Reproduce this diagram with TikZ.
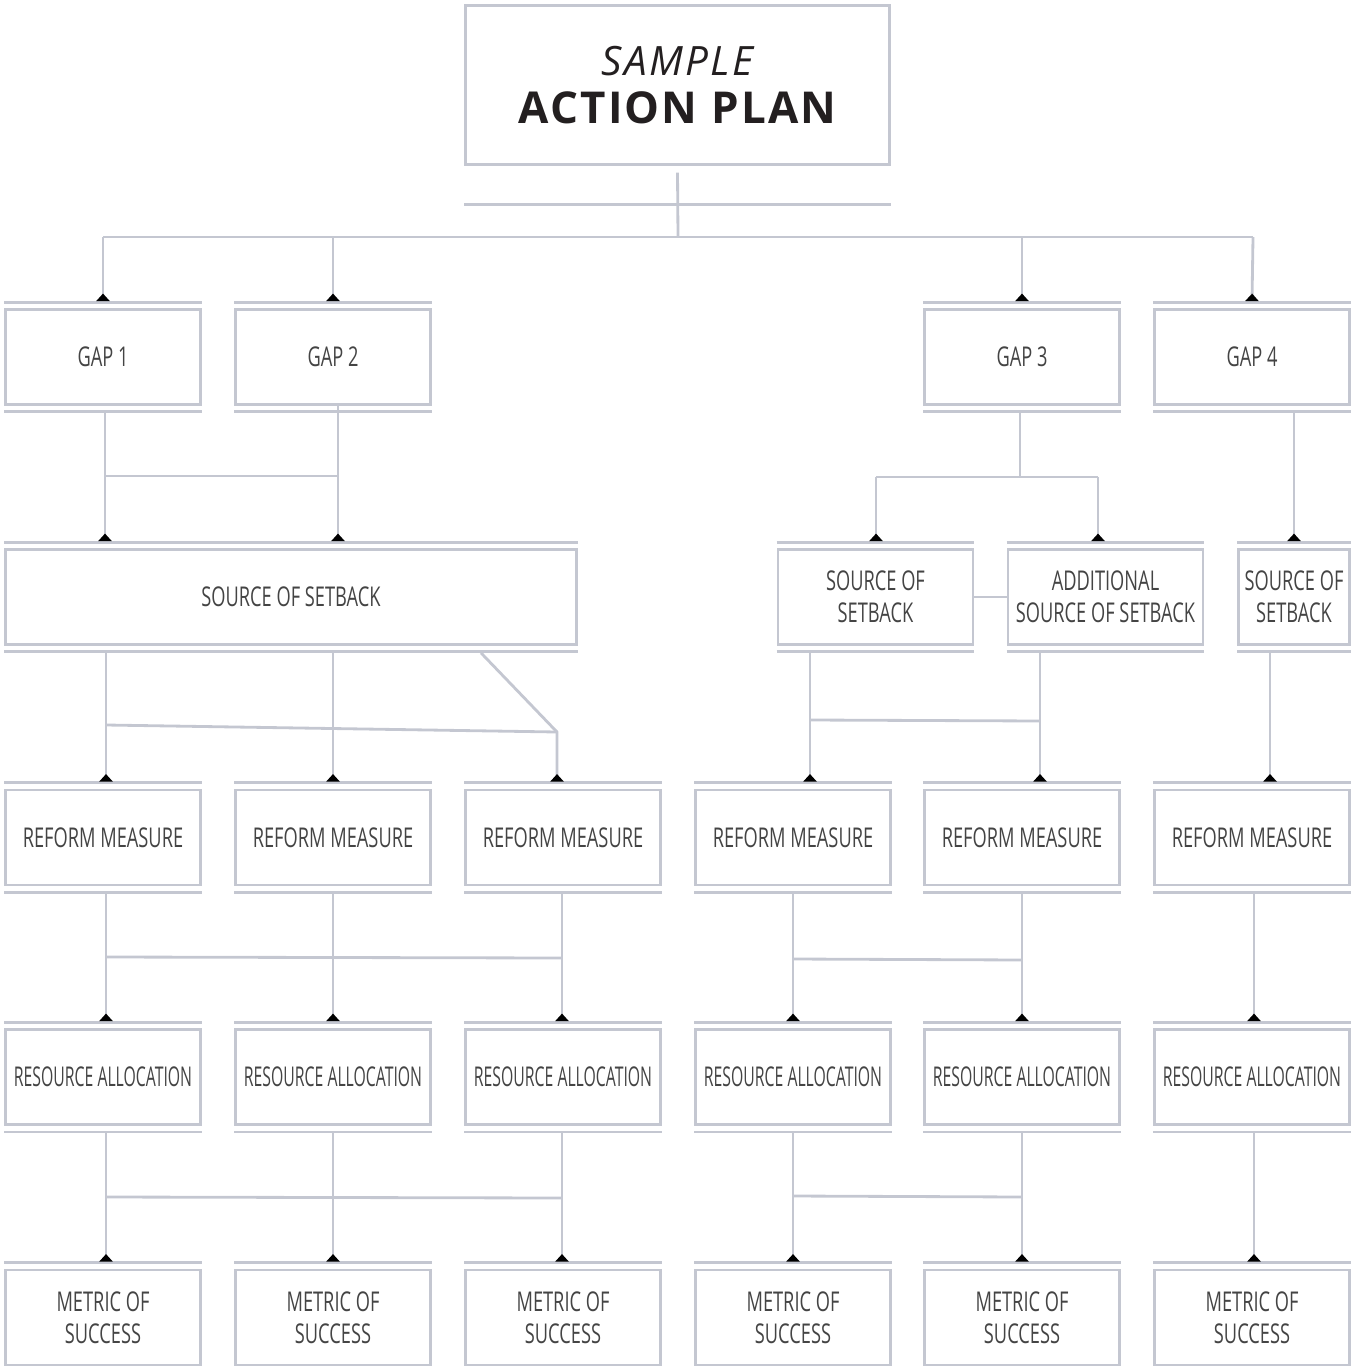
\documentclass[tikz,border=0pt]{standalone}
\usepackage{fontspec}
\setmainfont{Open Sans}
\newfontfamily\boxfont[FakeStretch=0.67]{Open Sans}
\newfontfamily\allocfont[FakeStretch=0.58]{Open Sans}
\usepackage{xcolor}
\usetikzlibrary{positioning, arrows.meta, calc}
\definecolor{linegray}{HTML}{C4C7D1}
\definecolor{textgray}{HTML}{444444}
\definecolor{titleink}{HTML}{231F20}

\begin{document}
\begin{tikzpicture}[x=0.02cm, y=-0.02cm,
          ruleline/.style={draw=linegray, line width=1.6pt},
          box/.style={draw=linegray, line width=1.6pt, minimum width=3.9cm, minimum height=1.9cm, align=center, text=textgray, inner sep=1pt, font=\boxfont\fontsize{15.5}{18.5}\selectfont,
            append after command={\pgfextra{\let\boxnode\tikzlastnode}
              ([yshift=0.12cm]\boxnode.north west) edge[ruleline] ([yshift=0.12cm]\boxnode.north east)
              ([yshift=-0.12cm]\boxnode.south west) edge[ruleline] ([yshift=-0.12cm]\boxnode.south east)}},
          allocbox/.style={box, font=\allocfont\fontsize{15.5}{18.5}\selectfont},
          titlebox/.style={draw=linegray, line width=1.6pt, minimum width=8.48cm, minimum height=3.17cm, align=center, text=titleink, font=\fontsize{25}{27}\selectfont},
          conn/.style={draw=linegray, line width=1.6pt},
          arr/.style={conn, -{Triangle[width=7.5pt, length=4.3pt, reversed, color=black]}}
        ]
        \useasboundingbox (0,0) rectangle (1355,1368);
        \node[titlebox] (title) at (677.5,85) {{\fontsize{23}{27}\selectfont\itshape\addfontfeature{LetterSpace=6}SAMPLE}\\{\bfseries\addfontfeature{LetterSpace=5}ACTION PLAN}};
        \node[box] (gap1) at (103,357) {GAP 1};
        \node[box] (gap2) at (333,357) {GAP 2};
        \node[box] (gap3) at (1022,357) {GAP 3};
        \node[box] (gap4) at (1252,357) {GAP 4};
        \node[box, minimum width=11.42cm] (src) at (291,597) {SOURCE OF SETBACK};
        \node[box] (srcb) at (875.5,597) {SOURCE OF\\SETBACK};
        \node[box] (srcadd) at (1105.5,597) {ADDITIONAL\\SOURCE OF SETBACK};
        \node[box, minimum width=2.22cm] (srcc) at (1294,597) {SOURCE OF\\SETBACK};
        \node[box] (rm1) at (103,837.5) {REFORM MEASURE};
        \node[box] (rm2) at (333,837.5) {REFORM MEASURE};
        \node[box] (rm3) at (563,837.5) {REFORM MEASURE};
        \node[box] (rm4) at (793,837.5) {REFORM MEASURE};
        \node[box] (rm5) at (1022,837.5) {REFORM MEASURE};
        \node[box] (rm6) at (1252,837.5) {REFORM MEASURE};
        \node[allocbox] (ra1) at (103,1077) {RESOURCE ALLOCATION};
        \node[allocbox] (ra2) at (333,1077) {RESOURCE ALLOCATION};
        \node[allocbox] (ra3) at (563,1077) {RESOURCE ALLOCATION};
        \node[allocbox] (ra4) at (793,1077) {RESOURCE ALLOCATION};
        \node[allocbox] (ra5) at (1022,1077) {RESOURCE ALLOCATION};
        \node[allocbox] (ra6) at (1252,1077) {RESOURCE ALLOCATION};
        \node[box] (ms1) at (103,1317.5) {METRIC OF\\SUCCESS};
        \node[box] (ms2) at (333,1317.5) {METRIC OF\\SUCCESS};
        \node[box] (ms3) at (563,1317.5) {METRIC OF\\SUCCESS};
        \node[box] (ms4) at (793,1317.5) {METRIC OF\\SUCCESS};
        \node[box] (ms5) at (1022,1317.5) {METRIC OF\\SUCCESS};
        \node[box] (ms6) at (1252,1317.5) {METRIC OF\\SUCCESS};
        \coordinate (hub) at (678,237);
        \coordinate (busL) at (103,237);
        \coordinate (busR) at (1253,237);
        \draw[conn] ($(title.south west)+(0,39)$) -- ($(title.south east)+(0,39)$);
        \draw[conn] ($(title.south)+(0,7)$) -- (hub);
        \draw[conn] (busL) -- (busR);
        \draw[arr] (busL) -- ($(gap1.north)+(0,-7)$);
        \draw[arr] (gap2.north |- hub) -- ($(gap2.north)+(0,-7)$);
        \draw[arr] (gap3.north |- hub) -- ($(gap3.north)+(0,-7)$);
        \draw[arr] (busR) -- ($(gap4.north)+(0,-7)$);
        \coordinate (a1) at (105,476);
        \coordinate (a2) at (338,476);
        \coordinate (a3) at (1020,477);
        \coordinate (a4) at (876,477);
        \coordinate (a5) at (1098,477);
        \draw[conn] (a1) -- (a2);
        \draw[arr] ($(a1 |- gap1.south)+(0,7)$) -- ($(a1 |- src.north)+(0,-7)$);
        \draw[arr] (a2 |- gap2.south) -- ($(a2 |- src.north)+(0,-7)$);
        \draw[conn] ($(a3 |- gap3.south)+(0,7)$) -- (a3);
        \draw[conn] (a4) -- (a5);
        \draw[arr] (a4) -- ($(a4 |- srcb.north)+(0,-7)$);
        \draw[arr] (a5) -- ($(a5 |- srcadd.north)+(0,-7)$);
        \draw[arr] ($(srcc.north |- gap4.south)+(0,7)$) -- ($(srcc.north)+(0,-7)$);
        \draw[conn] (srcb) -- (srcadd);
        \coordinate (b1) at (106,725);
        \coordinate (b2) at (333,726);
        \coordinate (b3) at (557,732);
        \coordinate (b4) at (810,720);
        \coordinate (b5) at (1040,721);
        \coordinate (b6) at (1270,720);
        \draw[conn] (b1) -- (b3);
        \draw[arr] ($(b1 |- src.south)+(0,7)$) -- ($(b1 |- rm1.north)+(0,-7)$);
        \draw[arr] ($(b2 |- src.south)+(0,7)$) -- ($(b2 |- rm2.north)+(0,-7)$);
        \draw[arr] ($(src.south)+(190,7)$) -- (b3) -- ($(b3 |- rm3.north)+(0,-7)$);
        \draw[conn] (b4) -- (b5);
        \draw[arr] ($(b4 |- srcb.south)+(0,7)$) -- ($(b4 |- rm4.north)+(0,-7)$);
        \draw[arr] ($(b5 |- srcadd.south)+(0,7)$) -- ($(b5 |- rm5.north)+(0,-7)$);
        \draw[arr] ($(b6 |- srcc.south)+(0,7)$) -- ($(b6 |- rm6.north)+(0,-7)$);
        \coordinate (c1) at (106,957);
        \coordinate (c2) at (333,957);
        \coordinate (c3) at (562,958);
        \coordinate (c4) at (793,959);
        \coordinate (c5) at (1022,960);
        \coordinate (c6) at (1254,958);
        \draw[conn] (c1) -- (c3);
        \draw[conn] (c4) -- (c5);
        \draw[arr] ($(c1 |- rm1.south)+(0,7)$) -- ($(c1 |- ra1.north)+(0,-7)$);
        \draw[arr] ($(c2 |- rm2.south)+(0,7)$) -- ($(c2 |- ra2.north)+(0,-7)$);
        \draw[arr] ($(c3 |- rm3.south)+(0,7)$) -- ($(c3 |- ra3.north)+(0,-7)$);
        \draw[arr] ($(c4 |- rm4.south)+(0,7)$) -- ($(c4 |- ra4.north)+(0,-7)$);
        \draw[arr] ($(c5 |- rm5.south)+(0,7)$) -- ($(c5 |- ra5.north)+(0,-7)$);
        \draw[arr] ($(c6 |- rm6.south)+(0,7)$) -- ($(c6 |- ra6.north)+(0,-7)$);
        \coordinate (d1) at (106,1197);
        \coordinate (d2) at (333,1197);
        \coordinate (d3) at (562,1198);
        \coordinate (d4) at (793,1196);
        \coordinate (d5) at (1022,1197);
        \coordinate (d6) at (1254,1197);
        \draw[conn] (d1) -- (d3);
        \draw[conn] (d4) -- (d5);
        \draw[arr] ($(d1 |- ra1.south)+(0,7)$) -- ($(d1 |- ms1.north)+(0,-7)$);
        \draw[arr] ($(d2 |- ra2.south)+(0,7)$) -- ($(d2 |- ms2.north)+(0,-7)$);
        \draw[arr] ($(d3 |- ra3.south)+(0,7)$) -- ($(d3 |- ms3.north)+(0,-7)$);
        \draw[arr] ($(d4 |- ra4.south)+(0,7)$) -- ($(d4 |- ms4.north)+(0,-7)$);
        \draw[arr] ($(d5 |- ra5.south)+(0,7)$) -- ($(d5 |- ms5.north)+(0,-7)$);
        \draw[arr] ($(d6 |- ra6.south)+(0,7)$) -- ($(d6 |- ms6.north)+(0,-7)$);
\end{tikzpicture}
\end{document}
